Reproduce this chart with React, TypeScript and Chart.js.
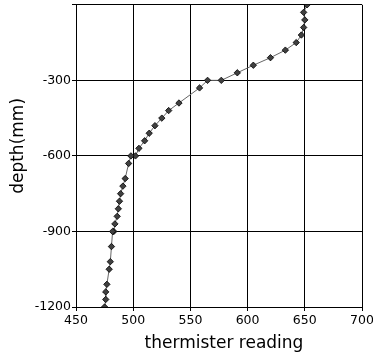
import React, { useEffect, useRef } from "react";
import { Chart, registerables } from "chart.js";

Chart.register(...registerables);

const depths = [0, -30, -60, -90, -120, -150, -180, -210, -240, -270, -300, -300, -330, -390, -420, -450, -480, -510, -540, -570, -600, -600, -630, -690, -720, -750, -780, -810, -840, -870, -900, -900, -960, -1020, -1050, -1110, -1140, -1170, -1200];
const readings = [652, 649, 650, 649, 647, 642.5, 633, 620, 605, 591, 577, 565, 558, 540, 531, 525, 519, 514, 510, 505, 502, 498, 496, 493, 491, 489, 488, 487, 486, 484, 483, 482, 481, 480, 479, 477, 476, 476, 475];
const xTitle = "thermister reading";
const yTitle = "depth(mm)";

const FONT = "'DejaVu Sans', sans-serif";

const titlePlugin = {
  id: "axisTitles",
  afterDraw(chart: any) {
    const ctx = chart.ctx;
    const area = chart.chartArea;
    ctx.save();
    ctx.fillStyle = "#000";
    ctx.font = `17px ${FONT}`;
    ctx.textAlign = "center";
    ctx.textBaseline = "alphabetic";
    ctx.fillText(xTitle, (area.left + area.right) / 2 + 5, 348);
    ctx.translate(23, (area.top + area.bottom) / 2 - 10);
    ctx.rotate(-Math.PI / 2);
    ctx.fillText(yTitle, 0, 0);
    ctx.restore();
  },
};

export default function App() {
  const ref = useRef<HTMLCanvasElement | null>(null);
  useEffect(() => {
    if (!ref.current) return;
    const chart = new Chart(ref.current, {
      type: "scatter",
      data: {
        datasets: [
          {
            data: readings.map((r, i) => ({ x: r, y: depths[i] })),
            showLine: true,
            borderColor: "#666666",
            borderWidth: 1,
            pointStyle: "rectRot",
            pointRadius: 3.2,
            pointBackgroundColor: "#404040",
            pointBorderColor: "#000000",
            pointBorderWidth: 0.8,
          },
        ],
      },
      options: {
        animation: false,
        responsive: false,
        layout: { padding: { top: 4, right: 11, left: 0, bottom: 0 } },
        plugins: { legend: { display: false }, tooltip: { enabled: false } },
        scales: {
          x: {
            type: "linear",
            min: 450,
            max: 700,
            ticks: {
              stepSize: 50,
              padding: 2,
              color: "#000",
              font: { family: FONT, size: 12.5 },
              callback: (v: any) => String(v),
            },
            grid: { color: "#000", lineWidth: 1, tickLength: 4, tickColor: "#000" },
            border: { color: "#000", width: 1 },
            afterFit: (s: any) => {
              s.height = 49;
              s.paddingLeft = 0;
              s.paddingRight = 0;
            },
          },
          y: {
            type: "linear",
            min: -1200,
            max: 0,
            ticks: {
              stepSize: 300,
              padding: 1,
              color: "#000",
              font: { family: FONT, size: 12.5 },
              callback: (v: any) => (v === 0 ? "" : String(v)),
            },
            grid: { color: "#000", lineWidth: 1, tickLength: 4, tickColor: "#000" },
            border: { color: "#000", width: 1 },
            afterFit: (s: any) => {
              s.width = 76;
              s.paddingTop = 0;
              s.paddingBottom = 0;
            },
          },
        },
      },
      plugins: [titlePlugin],
    });
    return () => chart.destroy();
  }, []);
  return (
    <div style={{ position: "fixed", left: 0, top: 0, width: 373, height: 356, background: "#fff" }}>
      <canvas ref={ref} width={373} height={356} style={{ width: 373, height: 356 }} />
    </div>
  );
}
